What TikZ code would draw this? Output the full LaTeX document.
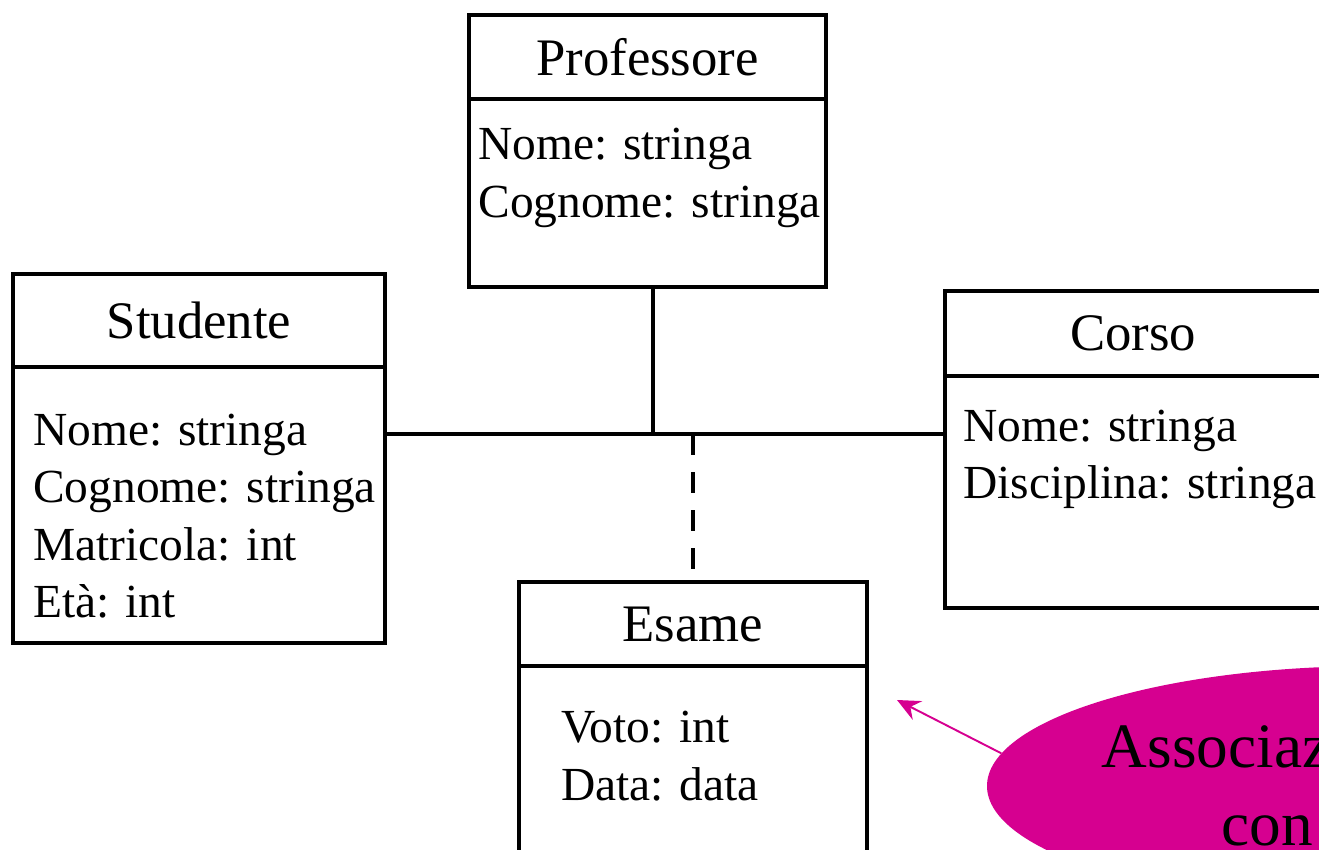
\documentclass[tikz,border=0pt]{standalone}
\usepackage{fontspec}
\setmainfont{Liberation Serif}
\usepackage{tikz}
\usetikzlibrary{positioning,shapes.geometric,arrows.meta}

\definecolor{assocpink}{RGB}{214,0,144}

\tikzset{
    classhead/.style={draw, line width=2.3pt, rectangle, outer sep=0pt, inner sep=0pt,
        font=\fontsize{30}{36}\selectfont},
    classbody/.style={draw, line width=2.3pt, rectangle, outer sep=0pt, inner sep=0pt},
    attr/.style={anchor=base west, inner sep=0pt, font=\fontsize{27}{33}\selectfont},
    link/.style={line width=2.3pt},
    assoclink/.style={line width=2.3pt, dash pattern=on 0.42cm off 0.34cm}
}

\begin{document}
\begin{tikzpicture}
    \useasboundingbox (0,0) rectangle (26.38,-17.00);
    \clip (0,0) rectangle (26.38,-17.00);

    % Classes
    \node[classhead, anchor=north west, minimum width=7.14cm, minimum height=1.68cm] (prof) at (9.38,-0.30) {Professore};
    \node[classbody, below=0pt of prof, minimum width=7.14cm, minimum height=3.76cm] (profbody) {};

    \node[classhead, anchor=north west, minimum width=7.44cm, minimum height=1.86cm] (stud) at (0.26,-5.48) {Studente};
    \node[classbody, below=0pt of stud, minimum width=7.44cm, minimum height=5.52cm] (studbody) {};

    \node[classhead, anchor=north west, minimum width=7.52cm, minimum height=1.70cm] (corso) at (18.90,-5.82) {Corso};
    \node[classbody, below=0pt of corso, minimum width=7.52cm, minimum height=4.64cm] (corsobody) {};

    \node[classhead, anchor=north west, minimum width=6.96cm, minimum height=1.68cm] (esame) at (10.38,-11.64) {Esame};
    \node[classbody, below=0pt of esame, minimum width=6.96cm, minimum height=5.00cm] (esamebody) {};

    % Attributes
    \node[attr] (profnome) at (9.56,-3.18) {Nome: stringa};
    \node[attr] (profcognome) at (9.56,-4.34) {Cognome: stringa};

    \node[attr] (studnome) at (0.66,-8.90) {Nome: stringa};
    \node[attr] (studcognome) at (0.66,-10.04) {Cognome: stringa};
    \node[attr] (studmatricola) at (0.66,-11.20) {Matricola: int};
    \node[attr] (studeta) at (0.66,-12.34) {Età: int};

    \node[attr] (corsonome) at (19.26,-8.82) {Nome: stringa};
    \node[attr] (corsodisciplina) at (19.26,-9.96) {Disciplina: stringa};

    \node[attr] (esamevoto) at (11.22,-14.84) {Voto: int};
    \node[attr] (esamedata) at (11.22,-16.00) {Data: data};

    % Ternary association
    \coordinate (hub) at (13.06,-8.68);
    \coordinate (hubclass) at (13.86,-8.68);
    \draw[link] (profbody.south -| hub) -- (hub);
    \draw[link] (studbody.east |- hub) -- (corsobody.west |- hub);
    \draw[assoclink] (hubclass -| esame.north) -- (esame.north);

    % Note
    \node[ellipse, fill=assocpink, inner sep=0pt, minimum width=15.52cm, minimum height=4.80cm,
        align=center, font=\fontsize{36}{44}\selectfont] (note) at (27.50,-15.72)
        {Associazione ternaria\\con attributi};
    \coordinate (notetip) at (17.94,-14.00);
    \draw[assocpink, line width=1.1pt, -{Stealth[length=0.46cm, width=0.42cm, inset=0.16cm]}] (note.175) -- (notetip);
\end{tikzpicture}
\end{document}
